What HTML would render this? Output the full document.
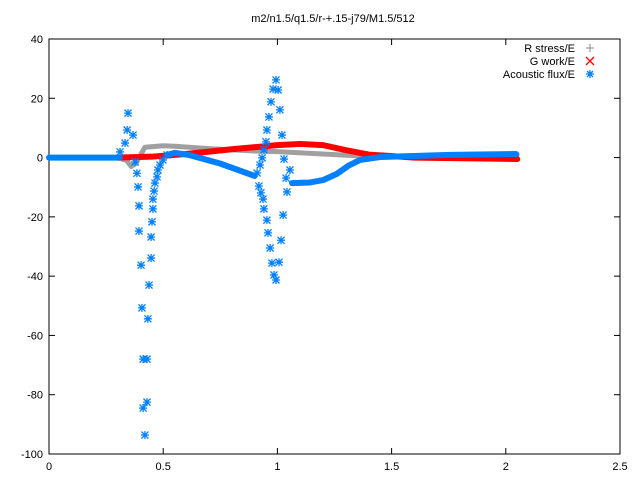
<!DOCTYPE html>
<html><head><meta charset="utf-8"><style>
body{margin:0;background:#fff}
svg text{font-family:"Liberation Sans",sans-serif;font-size:11px;fill:#000}
</style></head><body>
<svg id="c" width="640" height="480" xmlns="http://www.w3.org/2000/svg"></svg>
<script>
const xTicks=[0,0.5,1,1.5,2,2.5];
const xTickLabels=["0","0.5","1","1.5","2","2.5"];
const yTicks=[40,20,0,-20,-40,-60,-80,-100];
const yTickLabels=["40","20","0","-20","-40","-60","-80","-100"];
const stressX=[0.3,0.34,0.36,0.38,0.42,0.5,0.55,0.7,0.9,1.0,1.2,1.4,1.6,2.05];
const stressY=[0,-1,-3,-2,3.5,4,3.8,3,2.2,2,1.2,0.4,0.6,1];
const workX=[0.3,0.45,0.6,0.8,1.0,1.1,1.2,1.3,1.4,1.6,2.05];
const workY=[0,0.3,1.2,2.8,4.2,4.6,4.2,2.5,1,0,-0.5];
const fluxBand1X=[0,0.31];
const fluxBand1Y=[0,0];
const fluxBand2X=[0.517,0.552,0.617,0.749,0.90];
const fluxBand2Y=[0.9,1.6,0.8,-2.0,-6.2];
const fluxBand3X=[1.064,1.143,1.2,1.26,1.31,1.362,1.45,1.756,2.045];
const fluxBand3Y=[-8.6,-8.4,-7.6,-5.5,-2.8,-0.8,0.2,0.9,1.2];
const fluxX=[0.346,0.342,0.333,0.311,0.368,0.377,0.385,0.390,0.394,0.394,0.403,0.407,0.412,0.429,0.429,0.412,0.420,0.433,0.438,0.447,0.447,0.451,0.455,0.455,0.460,0.464,0.473,0.477,0.486,0.499,0.517,
0.994,0.981,1.003,0.972,1.011,0.963,0.954,1.020,0.950,0.941,0.933,0.924,0.911,0.919,0.928,0.937,0.941,0.954,0.959,0.968,0.976,0.985,0.994,1.007,1.016,1.025,1.029,1.042,1.038,1.055];
const fluxY=[15.0,9.3,4.9,1.9,7.6,-1.5,-5.3,-9.9,-16.3,-24.8,-36.3,-50.7,-68.0,-68.0,-82.5,-84.5,-93.6,-54.4,-43.0,-33.9,-26.8,-21.7,-17.3,-14.0,-11.3,-8.6,-6.5,-4.2,-2.5,-0.8,0.9,
26.2,23.1,22.8,18.8,16.1,13.7,9.3,7.6,5.3,2.6,-0.1,-2.5,-5.2,-9.6,-11.9,-14.0,-17.3,-21.1,-25.4,-30.5,-35.6,-39.6,-41.3,-35.3,-27.9,-19.4,-0.5,-11.6,-6.9,-4.2];

const L=49,R=620,T=39,B=454;
const sx=v=>L+(v/2.5)*(R-L);
const sy=v=>T+(40-v)/140*(B-T);
const svg=document.getElementById('c');
const NS='http://www.w3.org/2000/svg';
function mk(tag,attrs,parent){const e=document.createElementNS(NS,tag);for(const k in attrs)e.setAttribute(k,attrs[k]);(parent||svg).appendChild(e);return e;}

const frame=mk('rect',{x:L,y:T,width:R-L,height:B-T,fill:'none',stroke:'#000','stroke-width':1});



xTicks.forEach((v,i)=>{
  const x=sx(v);
  mk('line',{x1:x,y1:B,x2:x,y2:B-6,stroke:'#000'});
  mk('line',{x1:x,y1:T,x2:x,y2:T+6,stroke:'#000'});
  const t=mk('text',{x:x,y:B+16,'text-anchor':'middle'});
  t.textContent=xTickLabels[i];
  
  
});
yTicks.forEach((v,i)=>{
  const y=sy(v);
  mk('line',{x1:L,y1:y,x2:L+6,y2:y,stroke:'#000'});
  mk('line',{x1:R,y1:y,x2:R-6,y2:y,stroke:'#000'});
  const t=mk('text',{x:L-6,y:y+4,'text-anchor':'end'});
  t.textContent=yTickLabels[i];
  
  
});
const title=mk('text',{x:333,y:22,'text-anchor':'middle'});
title.textContent='m2/n1.5/q1.5/r-+.15-j79/M1.5/512';



function band(xs,ys,color,name,w){
  const p=mk('polyline',{points:xs.map((v,i)=>sx(v)+','+sy(ys[i])).join(' '),fill:'none',stroke:color,'stroke-width':w,'stroke-linejoin':'round','stroke-linecap':'round'});
  
  
}
band(stressX,stressY,'#a0a0a0','r-stress-series',5);
band(workX,workY,'#ff0000','g-work-series',6);
band(fluxBand1X,fluxBand1Y,'#0080ff','acoustic-flux-band',6);
band(fluxBand2X,fluxBand2Y,'#0080ff','acoustic-flux-band',6);
band(fluxBand3X,fluxBand3Y,'#0080ff','acoustic-flux-band',6);

function star(x,y,g){
  const d=`M${x-4},${y}h8M${x},${y-4}v8M${x-3.5},${y-3.5}l7,7M${x-3.5},${y+3.5}l7,-7`;
  mk('path',{d:d,stroke:'#0080ff','stroke-width':1.3,fill:'none'},g);
}
const g=mk('g',{});


fluxX.forEach((v,i)=>star(sx(v),sy(fluxY[i]),g));

const leg=[['R stress/E','#a0a0a0','plus'],['G work/E','#ff0000','x'],['Acoustic flux/E','#0080ff','star']];
leg.forEach((e,i)=>{
  const y=48+i*13;
  const t=mk('text',{x:575,y:y+4,'text-anchor':'end'});
  t.textContent=e[0];
  
  
  const cx=590;
  let d;
  if(e[2]=='plus')d=`M${cx-4},${y}h8M${cx},${y-4}v8`;
  else if(e[2]=='x')d=`M${cx-4},${y-4}l8,8M${cx-4},${y+4}l8,-8`;
  else d=`M${cx-4},${y}h8M${cx},${y-4}v8M${cx-3},${y-3}l6,6M${cx-3},${y+3}l6,-6`;
  mk('path',{d:d,stroke:e[1],'stroke-width':1.3,fill:'none'});
});
</script>
</body></html>
